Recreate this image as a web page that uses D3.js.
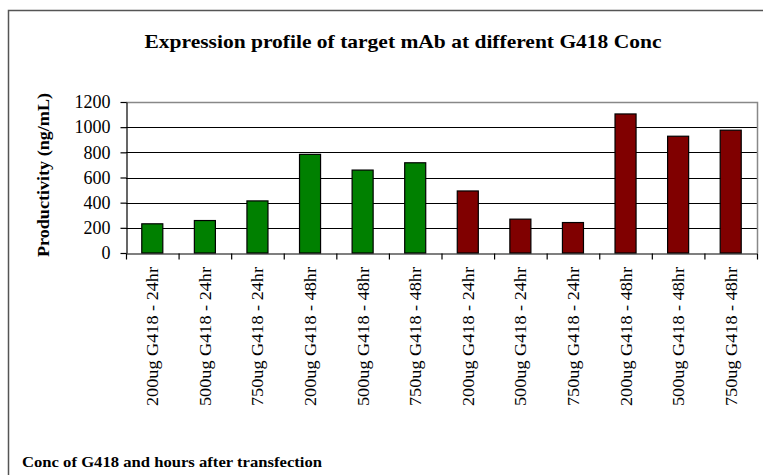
<!DOCTYPE html>
<html>
<head>
<meta charset="utf-8">
<script src="https://cdn.jsdelivr.net/npm/d3@7"></script>
<style>
  body { margin: 0; background: #fff; }
  svg { display: block; font-family: "Liberation Serif", "Times New Roman", serif; }
</style>
</head>
<body>
<svg width="763" height="475"></svg>
<script>
// chart data
const categories = [
    '200ug G418 - 24hr', '500ug G418 - 24hr', '750ug G418 - 24hr',
    '200ug G418 - 48hr', '500ug G418 - 48hr', '750ug G418 - 48hr',
    '200ug G418 - 24hr', '500ug G418 - 24hr', '750ug G418 - 24hr',
    '200ug G418 - 48hr', '500ug G418 - 48hr', '750ug G418 - 48hr'
];
const values = [232, 258, 414, 784, 659, 717, 493, 269, 242, 1105, 928, 976];
const groups = ['A', 'A', 'A', 'A', 'A', 'A', 'B', 'B', 'B', 'B', 'B', 'B'];
const yTicks = [0, 200, 400, 600, 800, 1000, 1200];

const groupColor = { A: '#008000', B: '#800000' };

const svg = d3.select('svg');
const plot = { left: 126, right: 757, top: 102, bottom: 253 };

// outer chart border
svg.append('rect')
    .attr('x', 8.5).attr('y', 10.5)
    .attr('width', 770).attr('height', 480)
    .attr('fill', 'none')
    .attr('stroke', '#555')
    .attr('stroke-width', 1.5);

const idx = categories.map((d, i) => i);

const x = d3.scaleBand()
    .domain(idx)
    .range([plot.left, plot.right])
    .paddingInner(0.6)
    .paddingOuter(0.3);

const xEdges = d3.scaleLinear()
    .domain([0, categories.length])
    .range([plot.left, plot.right]);

const y = d3.scaleLinear()
    .domain([0, 1200])
    .range([plot.bottom, plot.top]);

// gridlines
svg.append('g')
    .selectAll('line')
    .data(yTicks.filter(t => t > 0 && t < 1200))
    .enter().append('line')
    .attr('x1', plot.left).attr('x2', plot.right)
    .attr('y1', d => Math.round(y(d)) + 0.5).attr('y2', d => Math.round(y(d)) + 0.5)
    .attr('stroke', '#000');

// plot area top/right border
svg.append('path')
    .attr('d', `M${plot.left},${y(1200) + 0.5}H${plot.right + 0.5}V${plot.bottom}`)
    .attr('fill', 'none')
    .attr('stroke', '#888')
    .attr('stroke-width', 1.5);

// bars
svg.append('g')
    .selectAll('rect')
    .data(values)
    .enter().append('rect')
    .attr('x', (d, i) => x(i))
    .attr('y', d => y(d))
    .attr('width', x.bandwidth())
    .attr('height', d => y(0) - y(d))
    .attr('fill', (d, i) => groupColor[groups[i]])
    .attr('stroke', '#000')
    .attr('stroke-width', 1.2);

// y axis
const gy = svg.append('g')
    .attr('transform', `translate(${plot.left + 0.5},0)`)
    .call(d3.axisLeft(y).tickValues(yTicks).tickFormat(d3.format('d'))
        .tickSize(6).tickSizeOuter(0));
gy.select('.domain').attr('stroke', '#000').attr('stroke-width', 1.2);
gy.selectAll('.tick line').attr('stroke', '#000').attr('stroke-width', 1.2);
gy.selectAll('.tick text')
    .attr('x', -16)
    .attr('font-family', '"Liberation Serif", serif')
    .attr('font-size', 18)
    .attr('fill', '#000');

// x axis: tick marks between categories
const gx = svg.append('g')
    .attr('transform', `translate(0,${plot.bottom + 0.5})`)
    .call(d3.axisBottom(xEdges).tickValues(d3.range(0, categories.length + 1))
        .tickFormat('').tickSize(6).tickSizeOuter(0));
gx.select('.domain').attr('stroke', '#000').attr('stroke-width', 1.2);
gx.selectAll('.tick line').attr('stroke', '#000').attr('stroke-width', 1.2);

// x category labels (rotated)
svg.append('g')
    .selectAll('text')
    .data(categories)
    .enter().append('text')
    .attr('transform', (d, i) => `translate(${x(i) + x.bandwidth() / 2 + 6},267) rotate(-90)`)
    .attr('text-anchor', 'end')
    .attr('font-size', 17)
    .attr('textLength', 139)
    .attr('lengthAdjust', 'spacingAndGlyphs')
    .text(d => d);

// titles
svg.append('text')
    .attr('x', 403).attr('y', 48)
    .attr('text-anchor', 'middle')
    .attr('font-weight', 'bold')
    .attr('font-size', 19)
    .attr('textLength', 517)
    .attr('lengthAdjust', 'spacingAndGlyphs')
    .text('Expression profile of target mAb at different G418 Conc');

svg.append('text')
    .attr('transform', 'translate(49,175) rotate(-90)')
    .attr('text-anchor', 'middle')
    .attr('font-weight', 'bold')
    .attr('font-size', 16)
    .attr('textLength', 164)
    .attr('lengthAdjust', 'spacingAndGlyphs')
    .text('Productivity (ng/mL)');

svg.append('text')
    .attr('x', 22).attr('y', 467)
    .attr('font-weight', 'bold')
    .attr('font-size', 15)
    .attr('textLength', 300)
    .attr('lengthAdjust', 'spacingAndGlyphs')
    .text('Conc of G418 and hours after transfection');
</script>
</body>
</html>
